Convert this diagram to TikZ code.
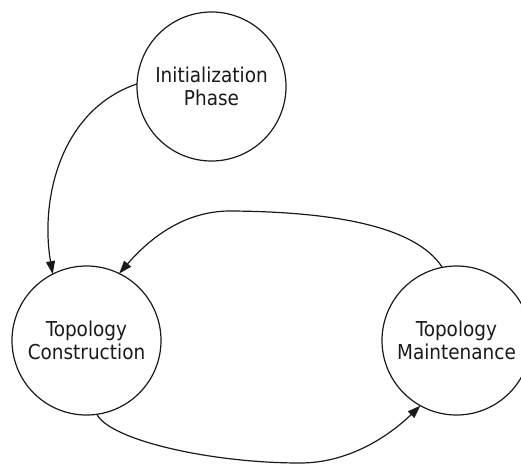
\documentclass[tikz,border=0pt]{standalone}
\usepackage{fontspec}
\setmainfont{DejaVu Sans Condensed}
\usetikzlibrary{arrows.meta}
\definecolor{ink}{HTML}{1A1A1A}
\tikzset{
  phase/.style={circle, draw=ink, line width=1.2pt, minimum size=149pt,
    inner sep=0pt, outer sep=0pt, align=center, text=ink,
    font=\fontsize{20.5}{23.5}\selectfont},
  flow/.style={draw=ink, line width=1.2pt,
    -{Triangle[length=13pt,width=9pt]}}
}
\begin{document}
\begin{tikzpicture}[x=1pt, y=-1pt]
  \useasboundingbox (0,0) rectangle (521,463);

  % the three phases
  \node[phase] (init)  at (211.5,86.5)  {Initialization\\Phase};
  \node[phase] (cons)  at (86.5,340.5)  {Topology\\Construction};
  \node[phase] (maint) at (456.5,340.5) {Topology\\Maintenance};

  % transitions between phases
  \draw[flow] (init.178) .. controls (60,110) and (40,200) .. (cons.117);
  \draw[flow] (maint.101) .. controls (415,225) and (330,212) .. (233,211)
              .. controls (185,210) and (150,238) .. (cons.64);
  \draw[flow] (cons.278) .. controls (110,440) and (210,463) .. (300,463)
              .. controls (350,463) and (390,435) .. (maint.241);
\end{tikzpicture}
\end{document}
